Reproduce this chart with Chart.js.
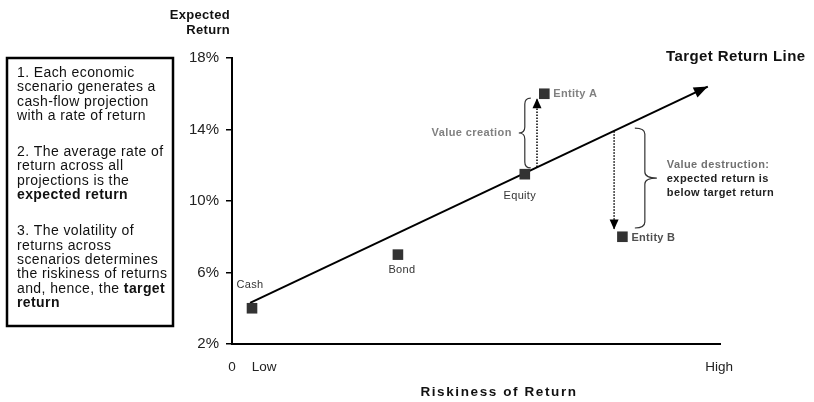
<!DOCTYPE html>
<html>
<head>
<meta charset="utf-8">
<script src="https://cdn.jsdelivr.net/npm/chart.js@4.4.1/dist/chart.umd.min.js"></script>
<style>
  html, body { margin: 0; padding: 0; background: #ffffff; }
  #wrap { width: 814px; height: 402px; }
</style>
</head>
<body>
<div id="wrap"><canvas id="c" width="814" height="402"></canvas></div>
<script>
// ---- data ----
const categories   = ['Cash', 'Bond', 'Equity', 'Entity A', 'Entity B'];
const riskValues   = [4.1, 34, 60, 64, 80];
const returnValues = [4, 7, 11.5, 16, 8];

const targetLineRisk   = [3.7, 97.5];
const targetLineReturn = [4.3, 16.4];

const arrowARisk   = [62.5, 62.5];
const arrowAReturn = [11.9, 15.75];
const arrowBRisk   = [78.3, 78.3];
const arrowBReturn = [13.9, 8.4];

const yTickValues = [2, 6, 10, 14, 18];
const xTickValues = [0, 6.6, 99.8];
const xTickLabels = ['0', 'Low', 'High'];

const creationBraceRisk   = 60;
const creationBraceRange  = [15.76, 11.85];
const destructionBraceRisk  = 84.6;
const destructionBraceRange = [14.08, 8.49];

const boxParagraphs = [
  [
    [['1. Each economic', false]],
    [['scenario generates a', false]],
    [['cash-flow projection', false]],
    [['with a rate of return', false]]
  ],
  [
    [['2. The average rate of', false]],
    [['return across all', false]],
    [['projections is the', false]],
    [['expected return', true]]
  ],
  [
    [['3. The volatility of', false]],
    [['returns across', false]],
    [['scenarios determines', false]],
    [['the riskiness of returns', false]],
    [['and, hence, the ', false], ['target', true]],
    [['return', true]]
  ]
];

// ---- styles (not data) ----
const FAM = '"Liberation Sans", Arial, Helvetica, sans-serif';
const labelStyle = {
  'Cash':     { dx: -2, dy: -23, align: 'center', bold: false, color: '#333' },
  'Bond':     { dx: 4,  dy: 15,  align: 'center', bold: false, color: '#333' },
  'Equity':   { dx: -5, dy: 22,  align: 'center', bold: false, color: '#333' },
  'Entity A': { dx: 9,  dy: 0,   align: 'left',   bold: true,  color: '#808080' },
  'Entity B': { dx: 9,  dy: 1,   align: 'left',   bold: true,  color: '#505050' }
};

function txt(ctx, s, x, y, o) {
  ctx.save();
  ctx.font = o.font;
  ctx.fillStyle = o.color || '#222';
  ctx.textAlign = o.align || 'left';
  ctx.textBaseline = o.baseline || 'middle';
  ctx.letterSpacing = (o.spacing || 0) + 'px';
  ctx.fillText(s, x, y);
  ctx.restore();
}
function arrowHead(ctx, x1, y1, x2, y2, len, half) {
  const a = Math.atan2(y2 - y1, x2 - x1);
  const c = Math.cos(a), s = Math.sin(a);
  ctx.beginPath();
  ctx.moveTo(x2, y2);
  ctx.lineTo(x2 - len * c + half * s, y2 - len * s - half * c);
  ctx.lineTo(x2 - len * c - half * s, y2 - len * s + half * c);
  ctx.closePath();
  ctx.fill();
}
function brace(ctx, x, yTop, yBot, dir, endW, tipW) {
  const mid = (yTop + yBot) / 2;
  const r = 6;
  ctx.beginPath();
  ctx.moveTo(x - dir * endW, yTop);
  ctx.quadraticCurveTo(x, yTop, x, yTop + r);
  ctx.lineTo(x, mid - r);
  ctx.quadraticCurveTo(x, mid, x + dir * tipW, mid);
  ctx.quadraticCurveTo(x, mid, x, mid + r);
  ctx.lineTo(x, yBot - r);
  ctx.quadraticCurveTo(x, yBot, x - dir * endW, yBot);
  ctx.stroke();
}

const decor = {
  id: 'decor',
  afterDatasetsDraw(chart) {
    const ctx = chart.ctx, xs = chart.scales.x, ys = chart.scales.y;
    const X = v => xs.getPixelForValue(v), Y = v => ys.getPixelForValue(v);
    ctx.save();
    ctx.fillStyle = '#000';
    // arrowheads
    arrowHead(ctx, X(targetLineRisk[0]), Y(targetLineReturn[0]), X(targetLineRisk[1]), Y(targetLineReturn[1]), 14, 5.5);
    arrowHead(ctx, X(arrowARisk[0]), Y(arrowAReturn[0]), X(arrowARisk[1]), Y(arrowAReturn[1]), 10, 4.5);
    arrowHead(ctx, X(arrowBRisk[0]), Y(arrowBReturn[0]), X(arrowBRisk[1]), Y(arrowBReturn[1]), 10, 4.5);
    // braces
    ctx.strokeStyle = '#333';
    ctx.lineWidth = 1.2;
    brace(ctx, X(creationBraceRisk), Y(creationBraceRange[0]), Y(creationBraceRange[1]), -1, 6, 6);
    brace(ctx, X(destructionBraceRisk), Y(destructionBraceRange[0]), Y(destructionBraceRange[1]), 1, 10, 12);
    ctx.restore();

    // point labels
    categories.forEach((c, i) => {
      const st = labelStyle[c];
      txt(ctx, c, X(riskValues[i]) + st.dx, Y(returnValues[i]) + st.dy, {
        font: (st.bold ? 'bold ' : '') + '11px ' + FAM, color: st.color, align: st.align, spacing: 0.3
      });
    });

    // annotation texts
    const cy = (Y(creationBraceRange[0]) + Y(creationBraceRange[1])) / 2;
    txt(ctx, 'Value creation', X(creationBraceRisk) - 13, cy, { font: 'bold 11px ' + FAM, color: '#808080', align: 'right', spacing: 0.4 });
    const dx = X(destructionBraceRisk) + 22;
    const dy = (Y(destructionBraceRange[0]) + Y(destructionBraceRange[1])) / 2;
    txt(ctx, 'Value destruction:', dx, dy - 13, { font: 'bold 11px ' + FAM, color: '#707070', spacing: 0.4 });
    txt(ctx, 'expected return is', dx, dy + 1, { font: 'bold 11px ' + FAM, color: '#222', spacing: 0.4 });
    txt(ctx, 'below target return', dx, dy + 15, { font: 'bold 11px ' + FAM, color: '#222', spacing: 0.4 });

    // titles
    txt(ctx, 'Target Return Line', 666, 57, { font: 'bold 15px ' + FAM, color: '#111', spacing: 0.4 });
    txt(ctx, 'Expected', 230, 15, { font: 'bold 13px ' + FAM, color: '#111', align: 'right', spacing: 0.3 });
    txt(ctx, 'Return', 230, 30, { font: 'bold 13px ' + FAM, color: '#111', align: 'right', spacing: 0.3 });
    txt(ctx, 'Riskiness of Return', 499, 392, { font: 'bold 13.5px ' + FAM, color: '#111', align: 'center', spacing: 1.6 });

    // explanatory box
    ctx.save();
    ctx.strokeStyle = '#000';
    ctx.lineWidth = 2.5;
    ctx.strokeRect(7, 58, 166, 268);
    const step = 14.4, paraGap = 36;
    let y = 73;
    boxParagraphs.forEach((para, pi) => {
      if (pi > 0) y += paraGap - step;
      para.forEach(line => {
        let x = 17;
        line.forEach(([s, b]) => {
          const font = (b ? 'bold ' : '') + '14px ' + FAM;
          ctx.font = font;
          ctx.letterSpacing = '0.4px';
          txt(ctx, s, x, y, { font, color: '#111', spacing: 0.4 });
          x += ctx.measureText(s).width;
        });
        y += step;
      });
    });
    ctx.restore();
  }
};

const ctx = document.getElementById('c').getContext('2d');
new Chart(ctx, {
  type: 'scatter',
  data: {
    datasets: [
      {
        label: 'Assets',
        data: riskValues.map((v, i) => ({ x: v, y: returnValues[i] })),
        pointStyle: 'rect',
        pointRadius: 7.5,
        pointBackgroundColor: '#333333',
        pointBorderWidth: 0,
        showLine: false
      },
      {
        label: 'Target Return Line',
        type: 'line',
        data: targetLineRisk.map((v, i) => ({ x: v, y: targetLineReturn[i] })),
        borderColor: '#000',
        borderWidth: 2,
        pointRadius: 0,
        fill: false
      },
      {
        label: 'Arrow A',
        type: 'line',
        data: arrowARisk.map((v, i) => ({ x: v, y: arrowAReturn[i] })),
        borderColor: '#000',
        borderWidth: 1.5,
        borderDash: [1.5, 1.5],
        pointRadius: 0,
        fill: false
      },
      {
        label: 'Arrow B',
        type: 'line',
        data: arrowBRisk.map((v, i) => ({ x: v, y: arrowBReturn[i] })),
        borderColor: '#000',
        borderWidth: 1.5,
        borderDash: [1.5, 1.5],
        pointRadius: 0,
        fill: false
      }
    ]
  },
  options: {
    responsive: false,
    devicePixelRatio: 1,
    animation: false,
    layout: { padding: { left: 0, top: 58, right: 94, bottom: 0 } },
    plugins: { legend: { display: false }, tooltip: { enabled: false } },
    scales: {
      x: {
        type: 'linear',
        min: 0,
        max: 100,
        afterBuildTicks: ax => { ax.ticks = xTickValues.map(v => ({ value: v })); },
        afterFit: s => { s.height = 58; },
        ticks: {
          callback: (v, i) => xTickLabels[i],
          font: { size: 13.5, family: FAM },
          color: '#222',
          padding: 15,
          maxRotation: 0,
          autoSkip: false
        },
        grid: { display: true, drawOnChartArea: false, drawTicks: false },
        border: { display: true, color: '#000', width: 2 }
      },
      y: {
        type: 'linear',
        min: 2,
        max: 18,
        afterBuildTicks: ax => { ax.ticks = yTickValues.map(v => ({ value: v })); },
        afterFit: s => { s.width = 232; },
        ticks: {
          callback: v => v + '%',
          font: { size: 15, family: FAM },
          color: '#222',
          padding: 7
        },
        grid: { display: true, drawOnChartArea: false, drawTicks: true, tickLength: 6, color: '#000', lineWidth: 1.5 },
        border: { display: true, color: '#000', width: 2 }
      }
    }
  },
  plugins: [decor]
});
</script>
</body>
</html>
